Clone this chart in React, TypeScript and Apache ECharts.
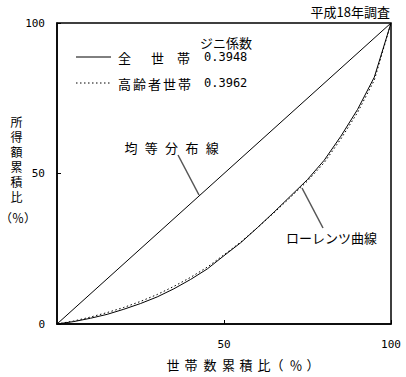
import React, { useEffect, useRef } from "react";
import * as echarts from "echarts";

// 世帯数累積比 (%)
const X_PCT = [0, 5, 10, 15, 20, 25, 30, 35, 40, 45, 50, 55, 60, 65, 70, 75, 80, 85, 90, 95, 100];
// 全世帯 ローレンツ曲線 (所得額累積比 %)
const ALL_HH = [0, 0.8, 1.9, 3.2, 4.9, 6.8, 9.0, 11.7, 14.8, 18.3, 22.7, 27.0, 32.0, 37.2, 42.6, 48.0, 54.4, 62.4, 71.3, 82.0, 100];
// 高齢者世帯 ローレンツ曲線
const ELDERLY_HH = [0, 1.0, 2.3, 3.8, 5.5, 7.5, 9.8, 12.5, 15.5, 18.9, 23.0, 27.2, 32.0, 37.0, 42.2, 47.5, 53.6, 61.5, 70.3, 81.0, 100];
// 均等分布線
const EQUAL_X = [0, 100];
const EQUAL_Y = [0, 100];
const TICKS = [0, 50, 100];
const GINI_ALL = "0.3948";
const GINI_ELDERLY = "0.3962";

const JP = "'Noto Sans CJK JP', sans-serif";
const MONO = "'DejaVu Sans Mono', monospace";

function txt(text: string, x: number, y: number, opts: any = {}) {
  const size = opts.size || 13;
  return {
    type: "text",
    x,
    y,
    silent: true,
    style: {
      text,
      fill: "#000",
      font: `${size}px ${opts.family || JP}`,
      lineHeight: opts.lineHeight || size,
      textAlign: opts.align || "center",
      textVerticalAlign: "middle",
    },
  };
}

export default function App() {
  const ref = useRef<HTMLDivElement>(null);
  useEffect(() => {
    if (!ref.current) return;
    const chart = echarts.init(ref.current, null, { renderer: "svg" });

    const xNameChars: [string, number][] = [
      ["世", 173], ["帯", 191], ["数", 210], ["累", 228.5], ["積", 246], ["比", 264],
      ["（", 277], ["％", 296], ["）", 313],
    ];

    const graphic: any[] = [
      txt("平成18年調査", 390, 11, { align: "right" }),
      txt("ジニ係数", 200, 42, { align: "left" }),
      { type: "line", silent: true, shape: { x1: 76, y1: 57, x2: 111, y2: 57 }, style: { stroke: "#000", lineWidth: 1 } },
      txt("全", 124.5, 57),
      txt("世", 157.5, 57),
      txt("帯", 183.5, 57),
      txt(GINI_ALL, 204, 57, { align: "left", family: MONO, size: 12 }),
      { type: "line", silent: true, shape: { x1: 76, y1: 83, x2: 111, y2: 83 }, style: { stroke: "#000", lineWidth: 1, lineDash: [1.5, 2.5] } },
      ...["高", "齢", "者", "世", "帯"].map((c, i) => txt(c, 124.5 + i * 15, 83)),
      txt(GINI_ELDERLY, 204, 83, { align: "left", family: MONO, size: 12 }),
      ...["均", "等", "分", "布", "線"].map((c, i) => txt(c, 131 + i * 20.3, 147)),
      { type: "line", silent: true, shape: { x1: 178, y1: 155, x2: 199, y2: 195 }, style: { stroke: "#555", lineWidth: 1.5 } },
      txt("ローレンツ曲線", 286, 237, { align: "left" }),
      { type: "line", silent: true, shape: { x1: 302, y1: 188, x2: 323, y2: 228 }, style: { stroke: "#555", lineWidth: 1.5 } },
      ...xNameChars.map(([c, x]) => txt(c, x, 364)),
      txt("所\n得\n額\n累\n積\n比", 16.5, 158.5, { size: 12, lineHeight: 15 }),
      txt("（％）", 18, 217, { size: 12 }),
    ];

    const axisCommon = {
      type: "value",
      min: TICKS[0],
      max: TICKS[TICKS.length - 1],
      interval: 50,
      splitLine: { show: false },
      axisLine: { show: true, lineStyle: { color: "#000", width: 1.5 } },
      axisTick: { show: true, inside: true, length: 4, lineStyle: { color: "#000", width: 1 } },
    };

    chart.setOption({
      animation: false,
      grid: {
        left: 57,
        right: 15,
        top: 23,
        bottom: 53,
        show: true,
        borderColor: "#000",
        borderWidth: 1.5,
      },
      xAxis: {
        ...axisCommon,
        axisLabel: {
          margin: 15,
          color: "#000",
          fontFamily: MONO,
          fontSize: 11,
          showMinLabel: false,
          formatter: (v: number) => (v === 0 ? "" : String(v)),
        },
      },
      yAxis: {
        ...axisCommon,
        axisLabel: {
          margin: 12,
          color: "#000",
          fontFamily: MONO,
          fontSize: 11,
        },
      },
      series: [
        {
          type: "line",
          name: "均等分布線",
          data: EQUAL_X.map((x, i) => [x, EQUAL_Y[i]]),
          showSymbol: false,
          silent: true,
          lineStyle: { color: "#000", width: 1 },
        },
        {
          type: "line",
          name: "全世帯",
          data: X_PCT.map((x, i) => [x, ALL_HH[i]]),
          showSymbol: false,
          silent: true,
          lineStyle: { color: "#000", width: 1 },
        },
        {
          type: "line",
          name: "高齢者世帯",
          data: X_PCT.map((x, i) => [x, ELDERLY_HH[i]]),
          showSymbol: false,
          silent: true,
          lineStyle: { color: "#000", width: 1, type: [1.5, 2.5] },
        },
      ],
      graphic,
    });
    return () => chart.dispose();
  }, []);

  return (
    <div
      ref={ref}
      style={{ position: "fixed", left: 0, top: 0, width: 406, height: 377, background: "#fff" }}
    />
  );
}
